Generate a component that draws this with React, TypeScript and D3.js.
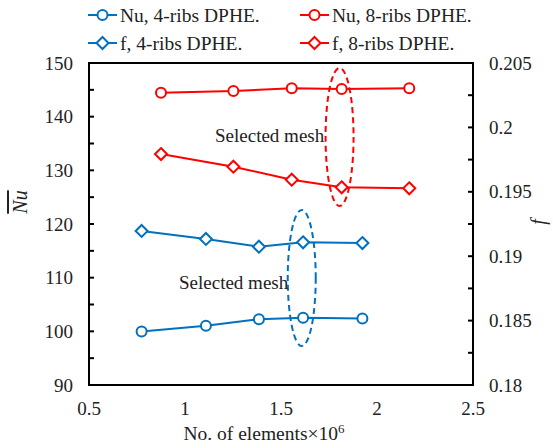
import React from "react";
import * as d3 from "d3";

// ---- data
const blueX = [0.774, 1.109, 1.385, 1.615, 1.924];
const nu4 = [99.95, 101.05, 102.25, 102.55, 102.4];
const f4 = [0.19196, 0.19134, 0.19074, 0.19108, 0.19102];

const redX = [0.875, 1.252, 1.556, 1.816, 2.168];
const nu8 = [144.47, 144.78, 145.29, 145.16, 145.29];
const f8 = [0.19793, 0.19695, 0.19594, 0.19535, 0.19527];

const xTicks = [0.5, 1, 1.5, 2, 2.5];
const nuTicks = [90, 100, 110, 120, 130, 140, 150];
const fTicks = [0.18, 0.185, 0.19, 0.195, 0.2, 0.205];

const legendItems = [
  { label: "Nu, 4-ribs DPHE.", color: "#0070C0", shape: "circle" },
  { label: "Nu, 8-ribs DPHE.", color: "#FF0000", shape: "circle" },
  { label: "f, 4-ribs DPHE.", color: "#0070C0", shape: "diamond" },
  { label: "f, 8-ribs DPHE.", color: "#FF0000", shape: "diamond" }
];

const BLUE = "#0070C0";
const RED = "#FF0000";
const FONT = "Liberation Serif, serif";
const txt = { fontFamily: FONT, fontSize: 19, fill: "#222" };

const Marker = ({ x, y, shape, color }) =>
  shape === "circle" ? (
    <circle cx={x} cy={y} r={5} fill="white" stroke={color} strokeWidth={2} />
  ) : (
    <path
      d={`M${x},${y - 6}L${x + 6},${y}L${x},${y + 6}L${x - 6},${y}Z`}
      fill="white"
      stroke={color}
      strokeWidth={2}
    />
  );

const App = () => {
  // margin convention
  const margin = { top: 63, right: 80, bottom: 63, left: 89 };
  const width = 553;
  const height = 448;

  const x = d3
    .scaleLinear()
    .domain([0.5, 2.5])
    .range([margin.left, width - margin.right]);
  const yNu = d3
    .scaleLinear()
    .domain([90, 150])
    .range([height - margin.bottom, margin.top]);
  const yF = d3
    .scaleLinear()
    .domain([0.18, 0.205])
    .range([height - margin.bottom, margin.top]);

  const line = d3.line();

  const series = [
    { xs: blueX, ys: nu4, y: yNu, color: BLUE, shape: "circle" },
    { xs: redX, ys: nu8, y: yNu, color: RED, shape: "circle" },
    { xs: blueX, ys: f4, y: yF, color: BLUE, shape: "diamond" },
    { xs: redX, ys: f8, y: yF, color: RED, shape: "diamond" }
  ];

  const nuMinor = d3.range(90, 150.1, 5);
  const fMinor = d3.range(0, 11).map(i => 0.18 + i * 0.0025);

  const x0 = x(0.5);
  const x1 = x(2.5);
  const yTop = yNu(150);
  const yBot = yNu(90);

  return (
    <svg width={width} height={height} style={{ position: "absolute", left: 0, top: 0 }}>
      <rect width={width} height={height} fill="white" />

      {/* legend */}
      {legendItems.map((d, i) => {
        const lx = i % 2 === 0 ? 88 : 300;
        const ly = i < 2 ? 15 : 43;
        return (
          <g key={d.label}>
            <line x1={lx} x2={lx + 29} y1={ly} y2={ly} stroke={d.color} strokeWidth={2} />
            <Marker x={lx + 14.5} y={ly} shape={d.shape} color={d.color} />
            <text x={lx + 32} y={ly} dy="0.35em" style={{ ...txt, fontSize: 19.5 }}>
              {d.label}
            </text>
          </g>
        );
      })}

      {/* series */}
      {series.map((s, i) => (
        <g key={i}>
          <path
            d={line(s.xs.map((v, j) => [x(v), s.y(s.ys[j])]))}
            fill="none"
            stroke={s.color}
            strokeWidth={2}
          />
          {s.xs.map((v, j) => (
            <Marker key={j} x={x(v)} y={s.y(s.ys[j])} shape={s.shape} color={s.color} />
          ))}
        </g>
      ))}

      {/* selected mesh annotations */}
      <ellipse cx={x(1.805)} cy={137} rx={14} ry={69} fill="none" stroke={RED} strokeWidth={2} strokeDasharray="6,4" />
      <ellipse cx={x(1.608)} cy={278} rx={14} ry={68} fill="none" stroke={BLUE} strokeWidth={2} strokeDasharray="6,4" />
      <text x={215} y={135} dy="0.35em" style={txt}>
        Selected mesh
      </text>
      <text x={179} y={282} dy="0.35em" style={txt}>
        Selected mesh
      </text>

      {/* frame */}
      <rect x={x0} y={yTop} width={x1 - x0} height={yBot - yTop} fill="none" stroke="black" strokeWidth={2} />

      {/* left ticks (inward) */}
      {nuMinor.map(v => (
        <line key={v} x1={x0} x2={x0 + 5} y1={yNu(v)} y2={yNu(v)} stroke="black" strokeWidth={2} />
      ))}
      {nuTicks.map(v => (
        <text key={v} x={x0 - 16} y={yNu(v)} dy="0.35em" textAnchor="end" style={txt}>
          {v}
        </text>
      ))}

      {/* right ticks (inward) */}
      {fMinor.map((v, i) => (
        <line key={i} x1={x1} x2={x1 - 5} y1={yF(v)} y2={yF(v)} stroke="black" strokeWidth={2} />
      ))}
      {fTicks.map(v => (
        <text key={v} x={x1 + 16} y={yF(v)} dy="0.35em" style={txt}>
          {v}
        </text>
      ))}

      {/* x tick labels */}
      {xTicks.map(v => (
        <text key={v} x={x(v)} y={408} dy="0.35em" textAnchor="middle" style={txt}>
          {v}
        </text>
      ))}

      {/* axis titles */}
      <text x={264} y={433} dy="0.35em" textAnchor="middle" style={{ ...txt, fontSize: 19.5 }}>
        No. of elements×10
        <tspan dy="-7" style={{ fontSize: 13 }}>6</tspan>
      </text>
      <text
        transform={`translate(20,${(yTop + yBot) / 2 - 22}) rotate(-90)`}
        textAnchor="middle"
        dy="0.35em"
        style={{ ...txt, fontSize: 20, fontStyle: "italic" }}
        textDecoration="overline"
      >
        Nu
      </text>
      <text
        transform={`translate(538,${(yTop + yBot) / 2 - 2}) rotate(-90)`}
        textAnchor="middle"
        dy="0.35em"
        style={{ ...txt, fontSize: 20, fontStyle: "italic" }}
      >
        f
      </text>
    </svg>
  );
};

export default App;
